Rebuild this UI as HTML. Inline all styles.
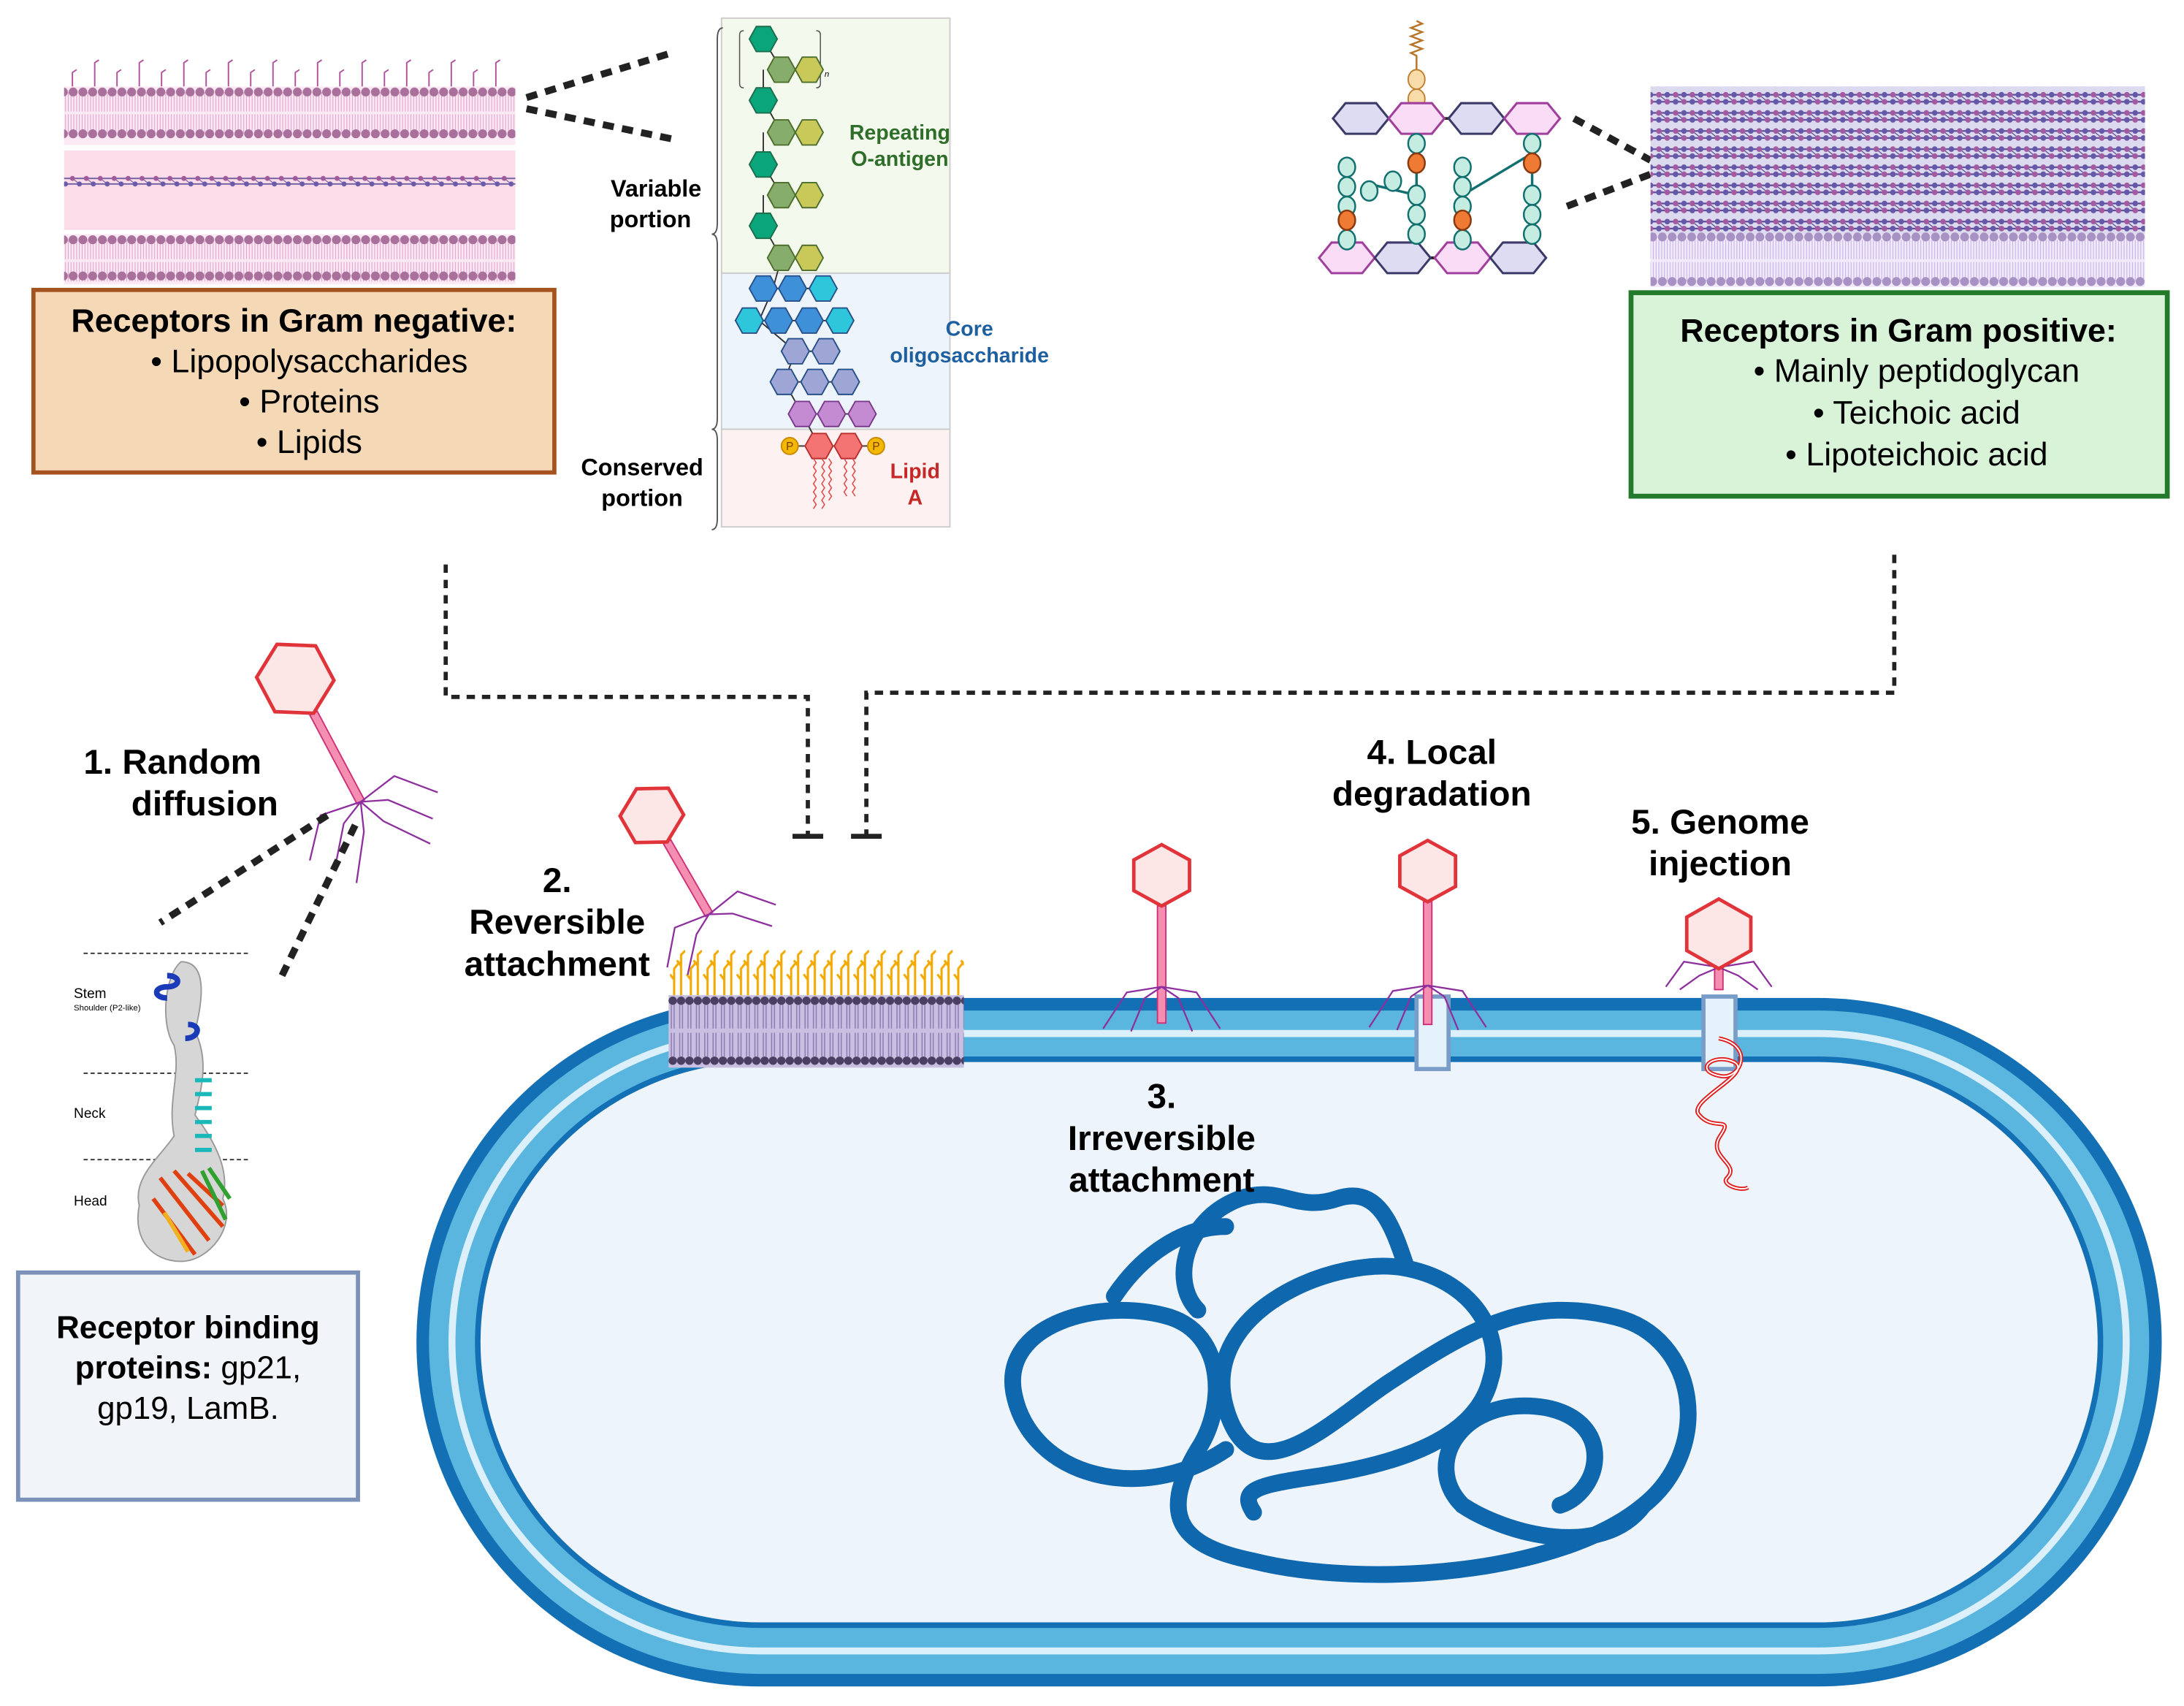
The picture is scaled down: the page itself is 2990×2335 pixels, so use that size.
<!DOCTYPE html>
<html><head><meta charset="utf-8"><style>
html,body{margin:0;padding:0;background:#fff;}
svg{display:block;}
text{font-family:"Liberation Sans",sans-serif;}
.b{font-weight:bold;}
</style></head><body>
<svg width="2990" height="2335" viewBox="0 0 1568 1224" preserveAspectRatio="none" xmlns="http://www.w3.org/2000/svg">
<defs>
<polygon id="hx" points="-10,0 -5,-9 5,-9 10,0 5,9 -5,9"/>
<polygon id="hw" points="-20,0 -11,-11 11,-11 20,0 11,11 -11,11"/>
<pattern id="hd" width="7" height="1000" patternUnits="userSpaceOnUse"><circle cx="3.5" cy="4" r="3.2" fill="#a8709a"/></pattern>
<pattern id="hd2" width="7" height="1000" patternUnits="userSpaceOnUse"><circle cx="3.5" cy="4" r="3.2" fill="#a892c4"/></pattern>
<pattern id="tl" width="4" height="1000" patternUnits="userSpaceOnUse"><path d="M1,0 L1,14 M3,0 L3,14 M1,16 L1,30 M3,16 L3,30" stroke="#e0a6d0" stroke-width="0.6"/></pattern>
<pattern id="tl2" width="4" height="1000" patternUnits="userSpaceOnUse"><path d="M1,0 L1,14 M3,0 L3,14 M1,16 L1,30 M3,16 L3,30" stroke="#c8b4e6" stroke-width="0.6"/></pattern>
<pattern id="pg" width="10" height="1000" patternUnits="userSpaceOnUse"><path d="M0,2 H10 M0,6 H10" stroke="#6a5a9e" stroke-width="1"/><path d="M2,2 L7,6" stroke="#6a5a9e" stroke-width="0.6"/><circle cx="2" cy="2" r="1.8" fill="#a05a9a"/><circle cx="7" cy="6" r="1.8" fill="#6a5aa8"/></pattern>
<pattern id="pgp" width="12" height="13" patternUnits="userSpaceOnUse"><rect width="12" height="13" fill="#dcdaef"/><path d="M0,3 H12 M0,8 H12" stroke="#5a4f96" stroke-width="1.2"/><path d="M3,3 L9,8" stroke="#5a4f96" stroke-width="0.7"/><circle cx="3" cy="3" r="2" fill="#a45aa0"/><circle cx="9" cy="3" r="2" fill="#6658a8"/><circle cx="3" cy="8" r="2" fill="#6658a8"/><circle cx="9" cy="8" r="2" fill="#a45aa0"/></pattern>
<pattern id="pm" width="6" height="1000" patternUnits="userSpaceOnUse"><circle cx="3" cy="4" r="3" fill="#4b3f63"/><circle cx="3" cy="47" r="3" fill="#4b3f63"/><path d="M2,7 V24 M4,7 V24 M2,27 V44 M4,27 V44" stroke="#8a7cb4" stroke-width="0.8"/></pattern>
<pattern id="rc" width="12" height="1000" patternUnits="userSpaceOnUse"><path d="M4,50 V30 L8,25 M4,38 L1,34 M9,50 V20 L12,17 M9,28 L6,24" stroke="#f2a900" stroke-width="1.6" fill="none"/></pattern>
</defs>

<!-- Gram negative membrane -->
<g>
<rect x="46" y="62" width="324" height="42" fill="#fbe9f4"/>
<g transform="translate(0,66)"><rect x="46" y="0" width="324" height="30" fill="url(#tl)"/></g>
<g transform="translate(0,62)"><rect x="46" y="0" width="324" height="8" fill="url(#hd)"/></g>
<g transform="translate(0,92)"><rect x="46" y="0" width="324" height="8" fill="url(#hd)"/></g>
<rect x="46" y="108" width="324" height="57" fill="#fcdce8"/>
<g transform="translate(0,126)"><rect x="46" y="0" width="324" height="8" fill="url(#pg)"/></g>
<rect x="46" y="168" width="324" height="36" fill="#fbe9f4"/>
<g transform="translate(0,172)"><rect x="46" y="0" width="324" height="30" fill="url(#tl)"/></g>
<g transform="translate(0,168)"><rect x="46" y="0" width="324" height="8" fill="url(#hd)"/></g>
<g transform="translate(0,194)"><rect x="46" y="0" width="324" height="8" fill="url(#hd)"/></g>
<g stroke="#b0509a" stroke-width="1" fill="none">
<path d="M52,62 V52 l3,-2 M68,62 V45 l3,-2 M84,62 V52 l3,-2 M100,62 V45 l3,-2 M116,62 V52 l3,-2 M132,62 V45 l3,-2 M148,62 V52 l3,-2 M164,62 V45 l3,-2 M180,62 V52 l3,-2 M196,62 V45 l3,-2 M212,62 V52 l3,-2 M228,62 V45 l3,-2 M244,62 V52 l3,-2 M260,62 V45 l3,-2 M276,62 V52 l3,-2 M292,62 V45 l3,-2 M308,62 V52 l3,-2 M324,62 V45 l3,-2 M340,62 V52 l3,-2 M356,62 V45 l3,-2"/>
</g>
</g>
<path d="M378,70 L482,38 M378,78 L484,100" stroke="#222" stroke-width="5" stroke-dasharray="8,6"/>

<!-- Gram negative box -->
<rect x="24" y="208" width="374" height="131" fill="#f5d8b6" stroke="#a4521f" stroke-width="3"/>
<text x="211" y="238" font-size="23.5" text-anchor="middle" class="b">Receptors in Gram negative:</text>
<text x="222" y="267" font-size="23.5" text-anchor="middle">•  Lipopolysaccharides</text>
<text x="222" y="296" font-size="23.5" text-anchor="middle">•  Proteins</text>
<text x="222" y="325" font-size="23.5" text-anchor="middle">•  Lipids</text>

<!-- LPS panel -->
<rect x="518" y="13" width="164" height="183" fill="#f3f9ec" stroke="#ccc"/>
<rect x="518" y="196" width="164" height="112" fill="#eef4fb" stroke="#ccc"/>
<rect x="518" y="308" width="164" height="70" fill="#fdf2f1" stroke="#ccc"/>
<path d="M519,20 q-4,0 -4,8 V160 q0,8 -4,8 q4,0 4,8 V300 q0,8 -4,8 q4,0 4,8 V372 q0,8 -4,8" stroke="#555" fill="none" stroke-width="1"/>
<path d="M534,22 q-3,0 -3,3 V60 q0,3 3,3 M586,22 q3,0 3,3 V60 q0,3 -3,3" stroke="#555" fill="none" stroke-width="0.8"/>
<text x="592" y="55" font-size="6" font-style="italic">n</text>
<path d="M548,28 L561,50 M548,50 L548,72 L561,95 M548,95 L548,118 L561,140 M548,140 L548,162 L561,185 L555,207 L545,230 L571,252 L563,274 L576,297 L588,320 M561,50 H581 M561,95 H581 M561,140 H581 M561,185 H581 M548,207 H591 M538,230 H603 M571,252 H593 M563,274 H607 M576,297 H619 M567,320 H629" stroke="#333" stroke-width="1" fill="none"/>
<g stroke="#1c6d4c" stroke-width="1"><use href="#hx" x="548" y="28" fill="#0aa57a"/><use href="#hx" x="548" y="72" fill="#0aa57a"/><use href="#hx" x="548" y="118" fill="#0aa57a"/><use href="#hx" x="548" y="162" fill="#0aa57a"/></g>
<g stroke="#4d6e2d" stroke-width="1">
<use href="#hx" x="561" y="50" fill="#86ad6b"/><use href="#hx" x="581" y="50" fill="#c9c95a"/>
<use href="#hx" x="561" y="95" fill="#86ad6b"/><use href="#hx" x="581" y="95" fill="#c9c95a"/>
<use href="#hx" x="561" y="140" fill="#86ad6b"/><use href="#hx" x="581" y="140" fill="#c9c95a"/>
<use href="#hx" x="561" y="185" fill="#86ad6b"/><use href="#hx" x="581" y="185" fill="#c9c95a"/></g>
<g stroke="#27508a" stroke-width="1">
<use href="#hx" x="548" y="207" fill="#3e90d8"/><use href="#hx" x="569" y="207" fill="#3e90d8"/><use href="#hx" x="591" y="207" fill="#2ec6da"/>
<use href="#hx" x="538" y="230" fill="#2ec6da"/><use href="#hx" x="559" y="230" fill="#3e90d8"/><use href="#hx" x="581" y="230" fill="#3e90d8"/><use href="#hx" x="603" y="230" fill="#2ec6da"/>
<use href="#hx" x="571" y="252" fill="#9ea6d6"/><use href="#hx" x="593" y="252" fill="#9ea6d6"/>
<use href="#hx" x="563" y="274" fill="#9ea6d6"/><use href="#hx" x="585" y="274" fill="#9ea6d6"/><use href="#hx" x="607" y="274" fill="#9ea6d6"/></g>
<g stroke="#7a3a8c" stroke-width="1"><use href="#hx" x="576" y="297" fill="#c48ad2"/><use href="#hx" x="597" y="297" fill="#c48ad2"/><use href="#hx" x="619" y="297" fill="#c48ad2"/></g>
<g stroke="#b82f2f" stroke-width="1"><use href="#hx" x="588" y="320" fill="#f47474"/><use href="#hx" x="609" y="320" fill="#f47474"/></g>
<circle cx="567" cy="320" r="6" fill="#f5b800" stroke="#c98a00"/><circle cx="629" cy="320" r="6" fill="#f5b800" stroke="#c98a00"/>
<text x="567" y="323" font-size="8" text-anchor="middle" fill="#7a3a00">P</text><text x="629" y="323" font-size="8" text-anchor="middle" fill="#7a3a00">P</text>
<g stroke="#e04848" stroke-width="0.8" fill="none">
<path d="M584,329 l2,3 -2,3 2,3 -2,3 2,3 -2,3 2,3 -2,3 2,3 -2,3 2,3 -2,3"/><path d="M590,329 l2,3 -2,3 2,3 -2,3 2,3 -2,3 2,3 -2,3 2,3 -2,3 2,3 -2,3"/><path d="M595,329 l2,3 -2,3 2,3 -2,3 2,3 -2,3 2,3 -2,3 2,3 -2,3"/><path d="M606,329 l2,3 -2,3 2,3 -2,3 2,3 -2,3 2,3 -2,3 2,3"/><path d="M612,329 l2,3 -2,3 2,3 -2,3 2,3 -2,3 2,3 -2,3 2,3"/></g>
<text x="471" y="141" font-size="17" text-anchor="middle" class="b">Variable</text>
<text x="467" y="163" font-size="17" text-anchor="middle" class="b">portion</text>
<text x="646" y="100" font-size="15" text-anchor="middle" class="b" fill="#2f6e2a">Repeating</text>
<text x="646" y="119" font-size="15" text-anchor="middle" class="b" fill="#2f6e2a">O-antigen</text>
<text x="696" y="241" font-size="15" text-anchor="middle" class="b" fill="#1e5fa0">Core</text>
<text x="696" y="260" font-size="15" text-anchor="middle" class="b" fill="#1e5fa0">oligosaccharide</text>
<text x="657" y="343" font-size="15" text-anchor="middle" class="b" fill="#c62828">Lipid</text>
<text x="657" y="362" font-size="15" text-anchor="middle" class="b" fill="#c62828">A</text>
<text x="461" y="341" font-size="17" text-anchor="middle" class="b">Conserved</text>
<text x="461" y="363" font-size="17" text-anchor="middle" class="b">portion</text>

<!-- Peptidoglycan diagram -->
<path d="M1017,65 V40 l-4,-2 8,-3 -8,-3 8,-3 -8,-3 8,-3 -8,-3 8,-3 -4,-2" stroke="#b8762a" stroke-width="1.3" fill="none"/>
<ellipse cx="1017" cy="57" rx="6" ry="7" fill="#f7dcaa" stroke="#c08030"/>
<ellipse cx="1017" cy="71" rx="6" ry="7" fill="#f7dcaa" stroke="#c08030"/>
<path d="M957,85 H1120 M947,185 H1110" stroke="#222" stroke-width="2"/>
<g stroke-width="1.6">
<use href="#hw" x="977" y="85" fill="#dedcf3" stroke="#3c3a68"/><use href="#hw" x="1017" y="85" fill="#fadcf6" stroke="#a13f9c"/><use href="#hw" x="1060" y="85" fill="#dedcf3" stroke="#3c3a68"/><use href="#hw" x="1100" y="85" fill="#fadcf6" stroke="#a13f9c"/>
<use href="#hw" x="967" y="185" fill="#fadcf6" stroke="#a13f9c"/><use href="#hw" x="1007" y="185" fill="#dedcf3" stroke="#3c3a68"/><use href="#hw" x="1050" y="185" fill="#fadcf6" stroke="#a13f9c"/><use href="#hw" x="1090" y="185" fill="#dedcf3" stroke="#3c3a68"/></g>
<path d="M967,120 V175 M983,132 L1017,140 M1050,120 V175 M1050,140 L1100,110 M1017,96 V145 M1100,96 V145" stroke="#127070" stroke-width="1.8"/>
<g fill="#c5ece0" stroke="#127070" stroke-width="1.3">
<ellipse cx="1017" cy="103" rx="6" ry="7"/><ellipse cx="1017" cy="140" rx="6" ry="7"/><ellipse cx="1017" cy="154" rx="6" ry="7"/><ellipse cx="1017" cy="168" rx="6" ry="7"/>
<ellipse cx="1100" cy="103" rx="6" ry="7"/><ellipse cx="1100" cy="140" rx="6" ry="7"/><ellipse cx="1100" cy="154" rx="6" ry="7"/><ellipse cx="1100" cy="168" rx="6" ry="7"/>
<ellipse cx="967" cy="120" rx="6" ry="7"/><ellipse cx="967" cy="134" rx="6" ry="7"/><ellipse cx="967" cy="148" rx="6" ry="7"/><ellipse cx="967" cy="172" rx="6" ry="7"/>
<ellipse cx="983" cy="137" rx="6" ry="7"/><ellipse cx="1000" cy="130" rx="6" ry="7"/>
<ellipse cx="1050" cy="120" rx="6" ry="7"/><ellipse cx="1050" cy="134" rx="6" ry="7"/><ellipse cx="1050" cy="148" rx="6" ry="7"/><ellipse cx="1050" cy="172" rx="6" ry="7"/></g>
<g fill="#ee7a33" stroke="#8a3a10" stroke-width="1.3">
<ellipse cx="1017" cy="117" rx="6" ry="7"/><ellipse cx="1100" cy="117" rx="6" ry="7"/><ellipse cx="967" cy="158" rx="6" ry="7"/><ellipse cx="1050" cy="158" rx="6" ry="7"/></g>
<path d="M1130,85 L1185,115 M1125,148 L1185,125" stroke="#222" stroke-width="5" stroke-dasharray="8,6"/>

<!-- Gram positive wall -->
<rect x="1185" y="62" width="355" height="110" fill="url(#pgp)"/>
<rect x="1185" y="168" width="355" height="38" fill="#f1ebfa"/>
<g transform="translate(0,172)"><rect x="1185" y="0" width="355" height="30" fill="url(#tl2)"/></g>
<g transform="translate(0,166)"><rect x="1185" y="0" width="355" height="8" fill="url(#hd2)"/></g>
<g transform="translate(0,198)"><rect x="1185" y="0" width="355" height="8" fill="url(#hd2)"/></g>

<rect x="1171" y="210" width="385" height="146" fill="#d9f3d9" stroke="#237a2a" stroke-width="3.5"/>
<text x="1363" y="245" font-size="23.5" text-anchor="middle" class="b">Receptors in Gram positive:</text>
<text x="1376" y="274" font-size="23.5" text-anchor="middle">•  Mainly peptidoglycan</text>
<text x="1376" y="304" font-size="23.5" text-anchor="middle">•  Teichoic acid</text>
<text x="1376" y="334" font-size="23.5" text-anchor="middle">•  Lipoteichoic acid</text>

<!-- dotted connectors -->
<path d="M320,405 V500 H580 V600 M1360,398 V497 H622 V600" stroke="#222" stroke-width="3" fill="none" stroke-dasharray="6,5"/>
<path d="M569,600 H591 M611,600 H633" stroke="#222" stroke-width="3.5"/>

<!-- Bacterium -->
<rect x="299" y="716" width="1253" height="494" rx="247" fill="#1470b4"/>
<rect x="308" y="725" width="1235" height="476" rx="238" fill="#5ab6de"/>
<rect x="322" y="739" width="1207" height="448" rx="224" fill="#dcf0fb"/>
<rect x="327" y="744" width="1197" height="438" rx="219" fill="#5ab6de"/>
<rect x="341" y="758" width="1169" height="410" rx="205" fill="#1470b4"/>
<rect x="345" y="762" width="1161" height="402" rx="201" fill="#eef4fb"/>

<!-- DNA -->
<path d="M880,1040 C820,1080 740,1060 728,1000 C718,950 790,930 840,945 C880,958 880,1010 860,1040 C830,1090 850,1110 900,1120 C980,1140 1120,1130 1180,1080 C1230,1040 1220,960 1160,945 C1100,930 1060,950 1000,990 C960,1015 900,1080 880,1010 C860,940 960,900 1010,910 C1060,920 1080,960 1070,990 C1060,1030 1010,1050 940,1060 C900,1066 890,1070 900,1085 M1010,910 C1000,880 990,850 960,860 C930,870 920,850 890,860 C850,875 840,920 860,940 M1180,1080 C1150,1120 1080,1100 1050,1080 C1020,1050 1050,1000 1110,1010 C1160,1020 1150,1070 1120,1080 M800,930 C820,900 850,880 880,880" stroke="#0f67ad" stroke-width="12" fill="none" stroke-linecap="round"/>

<!-- Membrane patch at step 2 -->
<g transform="translate(0,665)"><rect x="481" y="0" width="211" height="50" fill="url(#rc)"/></g>
<rect x="480" y="714" width="212" height="52" fill="#c9bfe0"/>
<g transform="translate(0,714)"><rect x="480" y="0" width="212" height="52" fill="url(#pm)"/></g>

<!-- pores -->
<rect x="1017" y="715" width="23" height="52" fill="#e4f2fb" stroke="#7a9cc8" stroke-width="3"/>
<rect x="1223" y="715" width="23" height="52" fill="#e4f2fb" stroke="#7a9cc8" stroke-width="3"/>
<path d="M1234,745 C1260,750 1250,775 1235,772 C1215,768 1230,755 1245,762 C1260,770 1210,790 1220,800 C1230,812 1245,800 1235,815 C1225,830 1250,835 1240,845 C1235,850 1250,855 1255,852" stroke="#e02020" stroke-width="3" fill="none"/>
<path d="M1234,745 C1260,750 1250,775 1235,772 C1215,768 1230,755 1245,762 C1260,770 1210,790 1220,800 C1230,812 1245,800 1235,815 C1225,830 1250,835 1240,845 C1235,850 1250,855 1255,852" stroke="#fff" stroke-width="1" fill="none"/>

<!-- Phages -->
<g transform="translate(212,487) rotate(-28)">
<rect x="-3" y="28" width="6" height="72" fill="#f48fb1" stroke="#d0307a" stroke-width="1"/>
<path d="M0,100 L-30,95 L-52,120 M0,100 L-18,108 L-40,135 M0,100 L30,95 L52,120 M0,100 L18,108 L40,135 M0,100 L-8,120 L-30,150 M0,100 L8,120 L30,150" stroke="#8e2f9e" stroke-width="1.2" fill="none"/>
<polygon points="0,-28 24,-14 24,14 0,28 -24,14 -24,-14" fill="#fde6e6" stroke="#e0333a" stroke-width="2.5"/>
</g>
<g transform="translate(468,585) rotate(-30)">
<rect x="-3" y="22" width="6" height="60" fill="#f48fb1" stroke="#d0307a" stroke-width="1"/>
<path d="M0,82 L-26,78 L-45,100 M0,82 L-15,90 L-35,112 M0,82 L26,78 L45,100 M0,82 L15,90 L35,112" stroke="#8e2f9e" stroke-width="1.2" fill="none"/>
<polygon points="0,-22 20,-11 20,11 0,22 -20,11 -20,-11" fill="#fde6e6" stroke="#e0333a" stroke-width="2.5"/>
</g>
<g transform="translate(834,628)">
<rect x="-3" y="22" width="6" height="84" fill="#f48fb1" stroke="#d0307a" stroke-width="1"/>
<path d="M0,80 L-25,84 L-42,110 M0,80 L-12,88 L-22,112 M0,80 L25,84 L42,110 M0,80 L12,88 L22,112" stroke="#8e2f9e" stroke-width="1.2" fill="none"/>
<polygon points="0,-22 20,-11 20,11 0,22 -20,11 -20,-11" fill="#fde6e6" stroke="#e0333a" stroke-width="2.5"/>
</g>
<g transform="translate(1025,625)">
<rect x="-3" y="22" width="6" height="88" fill="#f48fb1" stroke="#d0307a" stroke-width="1"/>
<path d="M0,82 L-25,86 L-42,112 M0,82 L-12,90 L-22,114 M0,82 L25,86 L42,112 M0,82 L12,90 L22,114" stroke="#8e2f9e" stroke-width="1.2" fill="none"/>
<polygon points="0,-22 20,-11 20,11 0,22 -20,11 -20,-11" fill="#fde6e6" stroke="#e0333a" stroke-width="2.5"/>
</g>
<g transform="translate(1234,670)">
<rect x="-3" y="22" width="6" height="18" fill="#f48fb1" stroke="#d0307a" stroke-width="1"/>
<path d="M0,24 L-25,20 L-38,38 M0,24 L-14,30 L-28,40 M0,24 L25,20 L38,38 M0,24 L14,30 L28,40" stroke="#8e2f9e" stroke-width="1.2" fill="none"/>
<polygon points="0,-25 23,-12 23,12 0,25 -23,12 -23,-12" fill="#fde6e6" stroke="#e0333a" stroke-width="2.5"/>
</g>

<!-- Labels -->
<text x="60" y="555" font-size="25" class="b">1.  Random</text>
<text x="147" y="585" font-size="25" text-anchor="middle" class="b">diffusion</text>
<text x="400" y="640" font-size="25" text-anchor="middle" class="b">2.</text>
<text x="400" y="670" font-size="25" text-anchor="middle" class="b">Reversible</text>
<text x="400" y="700" font-size="25" text-anchor="middle" class="b">attachment</text>
<text x="834" y="795" font-size="25" text-anchor="middle" class="b">3.</text>
<text x="834" y="825" font-size="25" text-anchor="middle" class="b">Irreversible</text>
<text x="834" y="855" font-size="25" text-anchor="middle" class="b">attachment</text>
<text x="1028" y="548" font-size="25" text-anchor="middle" class="b">4. Local</text>
<text x="1028" y="578" font-size="25" text-anchor="middle" class="b">degradation</text>
<text x="1235" y="598" font-size="25" text-anchor="middle" class="b">5. Genome</text>
<text x="1235" y="628" font-size="25" text-anchor="middle" class="b">injection</text>

<!-- phage to protein dotted -->
<path d="M235,585 L115,662 M255,592 L200,705" stroke="#222" stroke-width="5" stroke-dasharray="8,6"/>

<!-- protein structure -->
<path d="M60,684 H180 M60,770 H180 M60,832 H180" stroke="#333" stroke-width="1" stroke-dasharray="3,2"/>
<text x="53" y="716" font-size="10">Stem</text>
<text x="53" y="725" font-size="6">Shoulder (P2-like)</text>
<text x="53" y="802" font-size="10">Neck</text>
<text x="53" y="865" font-size="10">Head</text>
<path d="M130,690 C150,690 145,720 140,740 C150,760 145,780 140,800 C155,820 165,840 160,860 C170,880 150,905 130,905 C110,905 95,890 100,865 C95,845 115,830 125,815 C120,790 130,770 125,750 C115,735 118,700 130,690 Z" fill="#d6d6d6" stroke="#999" stroke-width="1"/>
<path d="M120,700 c10,0 10,8 0,8 c-10,0 -10,8 0,8 M135,735 c10,0 8,10 -2,10" stroke="#1a3ab8" stroke-width="4" fill="none"/>
<path d="M140,775 h12 M140,785 h12 M140,795 h12 M140,805 h12 M140,815 h12 M140,825 h12" stroke="#1ab8b8" stroke-width="3"/>
<path d="M115,845 L150,890 M125,840 L160,880 M110,860 L140,900 M135,842 L160,865" stroke="#e04010" stroke-width="3"/>
<path d="M145,840 L162,875 M150,838 L165,860" stroke="#30a030" stroke-width="3"/>
<path d="M118,870 L135,898" stroke="#f0b020" stroke-width="3"/>

<!-- RBP box -->
<rect x="13" y="913" width="244" height="163" fill="#f1f4f9" stroke="#7c91b8" stroke-width="3"/>
<text x="135" y="960" font-size="23" text-anchor="middle" class="b">Receptor binding</text>
<text x="135" y="989" font-size="23" text-anchor="middle"><tspan class="b">proteins:</tspan> gp21,</text>
<text x="135" y="1018" font-size="23" text-anchor="middle">gp19, LamB.</text>
</svg>
</body></html>
